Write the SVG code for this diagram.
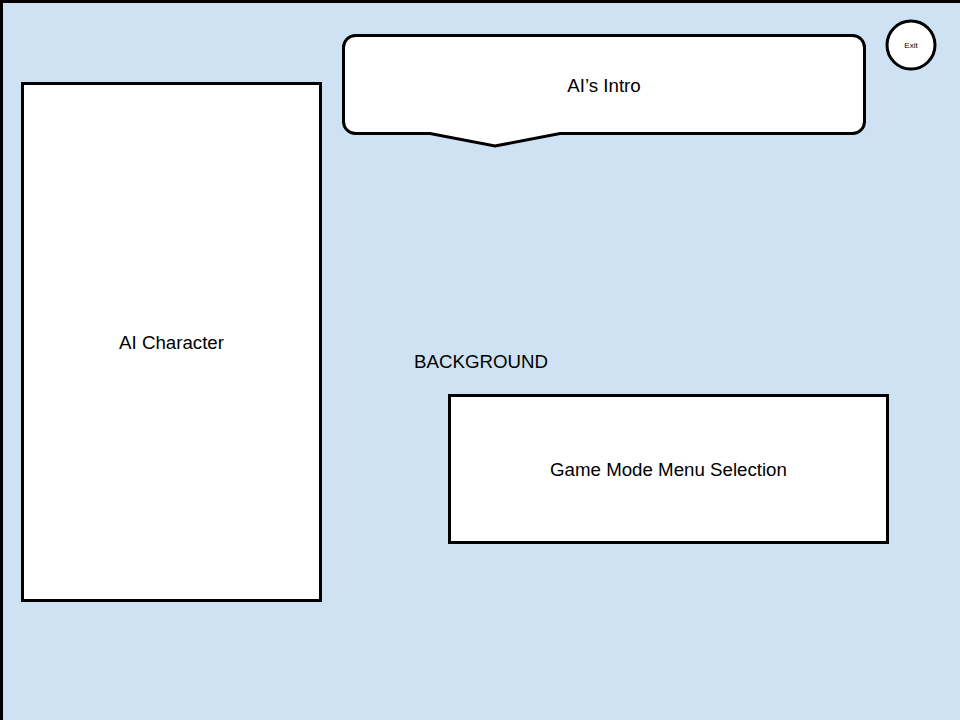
<svg xmlns="http://www.w3.org/2000/svg" width="960" height="720" viewBox="0 0 960 720">
<style>
.box{fill:#ffffff;stroke:#000000;stroke-width:3}
.t{font-family:"Liberation Sans",Arial,sans-serif;font-size:18.7px;fill:#000000;text-anchor:middle;dominant-baseline:central}
</style>
<g id="background">
<rect x="1.5" y="1.5" width="962" height="722" fill="#cfe2f3" stroke="#000000" stroke-width="3"/>
<text class="t" x="481" y="361">BACKGROUND</text>
</g>
<g id="ai-character">
<rect class="box" x="22.5" y="83.5" width="298" height="517"/>
<text class="t" x="171.5" y="342">AI Character</text>
</g>
<g id="ai-intro">
<path class="box" d="M355.5,35.5 H852.5 A12,12 0 0 1 864.5,47.5 V121.5 A12,12 0 0 1 852.5,133.5 H560 L495,146 L430,133.5 H355.5 A12,12 0 0 1 343.5,121.5 V47.5 A12,12 0 0 1 355.5,35.5 Z"/>
<text class="t" x="604" y="85">AI’s Intro</text>
</g>
<g id="exit">
<circle class="box" cx="911" cy="45" r="24"/>
<text class="t" x="911" y="45" style="font-size:8px">Exit</text>
</g>
<g id="game-mode-menu">
<rect class="box" x="449.5" y="395.5" width="438" height="147"/>
<text class="t" x="668.5" y="469">Game Mode Menu Selection</text>
</g>
<g id="connectors"></g>
</svg>
